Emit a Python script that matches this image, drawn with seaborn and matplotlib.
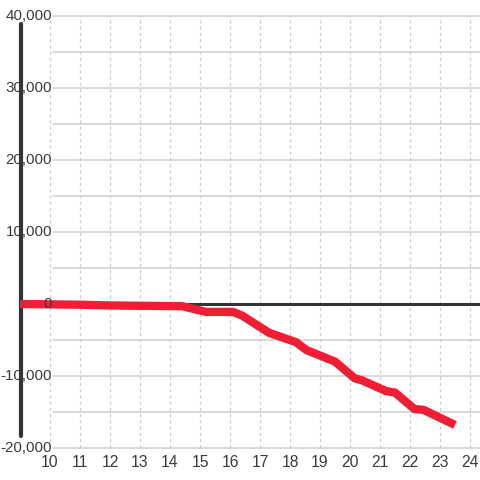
import matplotlib
matplotlib.use("Agg")
import pandas as pd
import seaborn as sns
import matplotlib.pyplot as plt

# === DONNEES ===
x_vals = [9.0, 10.0, 11.0, 12.0, 13.0, 14.4, 15.2, 16.1, 16.4, 17.3, 18.2,
          18.55, 19.5, 20.15, 20.4, 21.2, 21.5, 22.15, 22.45, 23.5]
y_vals = [0, -50, -100, -200, -250, -300, -1100, -1100, -1600, -4000, -5300,
          -6400, -8000, -10300, -10600, -12100, -12300, -14600, -14700, -16800]
x_ticks = list(range(10, 25))
y_ticks = [-20000, -10000, 0, 10000, 20000, 30000, 40000]
y_grid = list(range(-20000, 40001, 5000))

df = pd.DataFrame({"x": x_vals, "y": y_vals})

# === FIGURE ===
sns.set_style("white")
plt.rcParams["font.family"] = ["Liberation Sans", "DejaVu Sans"]

fig = plt.figure(figsize=(4.8, 4.8), dpi=100)
ax = fig.add_axes([0, 0, 1, 1])
ax.set_xlim(8.333, 24.333)
ax.set_ylim(-24444, 42222)
ax.axis("off")

# grille
for v in y_grid:
    ax.plot([10.1, 24.333], [v, v], color="#cfcfcf", lw=1.1, zorder=1)
for t in x_ticks:
    ax.plot([t, t], [-20000, 40000], color="#cccccc", lw=0.9, ls=(0, (2.5, 2.5)), zorder=1)

# axe vertical noir et ligne zero
ax.plot([9.03, 9.03], [38900, -18300], color="#333333", lw=3, zorder=2)
ax.plot([9.0, 24.333], [0, 0], color="#333333", lw=2.2, zorder=2)

sns.lineplot(data=df, x="x", y="y", ax=ax, color="#ee1f35", lw=6,
             solid_capstyle="butt", zorder=3)

# etiquettes
for v in y_ticks:
    ax.text(10.07, v, f"{v:,}", ha="right", va="center", fontsize=10.9,
            color="#3a3a3a", zorder=4)
for t in x_ticks:
    ax.text(t, -22000, str(t), ha="center", va="center", fontsize=11.3,
            color="#3a3a3a", zorder=4)

fig.savefig("out.png", dpi=100, facecolor="white")
